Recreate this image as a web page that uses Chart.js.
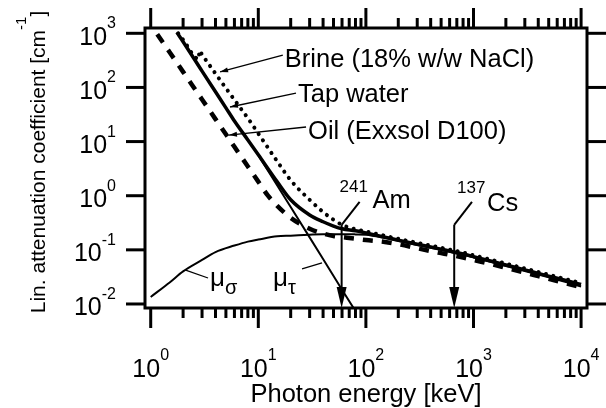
<!DOCTYPE html>
<html>
<head>
<meta charset="utf-8">
<script src="https://cdn.jsdelivr.net/npm/chart.js@4.4.1/dist/chart.umd.min.js"></script>
<style>
body { margin: 0; background: #fff; }
#wrap { width: 606px; height: 408px; }
</style>
</head>
<body>
<div id="wrap"><canvas id="muChart" width="606" height="408"></canvas></div>
<script>
// photon energy in keV, linear attenuation in 1/cm
const brineE = [1.8, 2, 2.8, 2.83, 3, 4, 5, 6, 8, 10, 15, 20, 30, 40, 50, 60, 80, 100, 150, 200, 300, 400, 500, 600, 800, 1000, 1500, 2000, 3000, 4000, 5000, 6000, 8000, 10000];
const brineMu = [1000, 760, 335, 480, 405, 180, 97, 59, 27, 14.1, 4.3, 1.93, 0.84, 0.5, 0.36, 0.29, 0.24, 0.218, 0.182, 0.16, 0.135, 0.12, 0.109, 0.101, 0.089, 0.0795, 0.0647, 0.0557, 0.0453, 0.0389, 0.0347, 0.0316, 0.0272, 0.0243];

const waterE = [1.75, 2, 3, 4, 5, 6, 8, 10, 15, 20, 30, 40, 50, 60, 80, 100, 150, 200, 300, 400, 500, 600, 800, 1000, 1500, 2000, 3000, 4000, 5000, 6000, 8000, 10000];
const waterMu = [1040, 700, 200, 83, 42, 24, 10.7, 5.7, 1.8, 0.84, 0.44, 0.33, 0.275, 0.245, 0.225, 0.205, 0.172, 0.151, 0.127, 0.113, 0.103, 0.0955, 0.0838, 0.075, 0.061, 0.0525, 0.0427, 0.0367, 0.0327, 0.0298, 0.0257, 0.0229];

const oilE = [1.15, 1.5, 2, 3, 4, 5, 6, 8, 10, 12.3, 15, 20, 30, 40, 50, 60, 80, 100, 150, 200, 300, 400, 500, 600, 800, 1000, 1500, 2000, 3000, 4000, 5000, 6000, 8000, 10000];
const oilMu = [960, 447, 194, 60, 26, 13.6, 8.0, 3.47, 1.82, 1.0, 0.65, 0.39, 0.245, 0.2, 0.18, 0.172, 0.16, 0.152, 0.14, 0.127, 0.107, 0.095, 0.087, 0.081, 0.072, 0.065, 0.054, 0.0467, 0.038, 0.0327, 0.0291, 0.0265, 0.0229, 0.0204];

const scatE = [1, 1.5, 2, 3, 4, 6, 8, 10, 15, 20, 30, 40, 60, 80, 100, 150, 200, 300, 400, 500, 600, 800, 1000, 1500, 2000, 3000, 4000, 5000, 6000, 8000, 10000];
const scatMu = [0.0135, 0.025, 0.04, 0.065, 0.091, 0.12, 0.142, 0.155, 0.178, 0.183, 0.191, 0.195, 0.195, 0.193, 0.19, 0.165, 0.146, 0.123, 0.109, 0.0995, 0.092, 0.0808, 0.0723, 0.0588, 0.0505, 0.0408, 0.035, 0.031, 0.0281, 0.024, 0.0211];

const photoE = [10, 15, 20, 30, 40, 60, 80];
const photoMu = [5.6, 1.55, 0.62, 0.17, 0.068, 0.0183, 0.0074];

const xTickExp = [0, 1, 2, 3, 4];
const yTickExp = [3, 2, 1, 0, -1, -2];

const amE = 59.5;   // 241Am line
const csE = 662;    // 137Cs line

const FONT = "'Liberation Sans', Arial, sans-serif";

function pts(es, ms) {
    return es.map((e, i) => ({ x: e, y: ms[i] }));
}

function line(ctx, x1, y1, x2, y2) {
    ctx.beginPath();
    ctx.moveTo(x1, y1);
    ctx.lineTo(x2, y2);
    ctx.stroke();
}

function arrowHead(ctx, x1, y1, x2, y2, len, half) {
    const a = Math.atan2(y2 - y1, x2 - x1);
    ctx.beginPath();
    ctx.moveTo(x2, y2);
    ctx.lineTo(x2 - len * Math.cos(a) + half * Math.sin(a), y2 - len * Math.sin(a) - half * Math.cos(a));
    ctx.lineTo(x2 - len * Math.cos(a) - half * Math.sin(a), y2 - len * Math.sin(a) + half * Math.cos(a));
    ctx.closePath();
    ctx.fill();
}

function powLabel(ctx, exp, x, base, align, raise) {
    ctx.font = "25px " + FONT;
    const wb = ctx.measureText("10").width;
    ctx.font = "16px " + FONT;
    const ws = ctx.measureText(String(exp)).width;
    const x0 = align === "center" ? x - (wb + ws) / 2 : x - wb - ws;
    ctx.textAlign = "left";
    ctx.textBaseline = "alphabetic";
    ctx.font = "25px " + FONT;
    ctx.fillText("10", x0, base);
    ctx.font = "16px " + FONT;
    ctx.fillText(String(exp), x0 + wb, base - raise);
}

const frame = {
    id: "frame",
    afterDraw(chart) {
        const ctx = chart.ctx;
        const a = chart.chartArea;
        const xs = chart.scales.x;
        const ys = chart.scales.y;
        const X = (v) => xs.getPixelForValue(v);
        const Y = (v) => ys.getPixelForValue(v);
        ctx.save();
        ctx.strokeStyle = "#000";
        ctx.fillStyle = "#000";

        /* ---------- box and ticks ---------- */
        ctx.lineWidth = 3;
        ctx.lineCap = "butt";
        ctx.strokeRect(a.left, a.top, a.right - a.left, a.bottom - a.top);
        for (let d = 0; d <= 4; d++) {
            for (let m = 1; m <= 9; m++) {
                const v = m * Math.pow(10, d);
                if (v < xs.min || v > xs.max) continue;
                const px = X(v);
                const len = m === 1 ? 20 : 10;
                line(ctx, px, a.bottom, px, a.bottom + len);
                line(ctx, px, a.top, px, a.top - len);
            }
        }
        yTickExp.forEach((e) => {
            const py = Y(Math.pow(10, e));
            line(ctx, a.left - 19, py, a.left, py);
            line(ctx, a.right, py, a.right + 19, py);
        });

        /* ---------- tick labels ---------- */
        xTickExp.forEach((e) => {
            powLabel(ctx, e, X(Math.pow(10, e)), a.bottom + 69, "center", 17);
        });
        yTickExp.forEach((e) => {
            powLabel(ctx, e, a.left - 29, Y(Math.pow(10, e)) + 11.5, "right", 16.5);
        });

        /* ---------- axis titles ---------- */
        ctx.font = "25.5px " + FONT;
        ctx.textAlign = "center";
        ctx.fillText("Photon energy [keV]", (a.left + a.right) / 2, a.bottom + 94);

        ctx.save();
        ctx.translate(45, 162);
        ctx.rotate(-Math.PI / 2);
        ctx.textAlign = "left";
        const t1 = "Lin. attenuation coefficient [cm", t2 = "-1", t3 = "]";
        ctx.font = "21px " + FONT;
        const w1 = ctx.measureText(t1).width, w3 = ctx.measureText(t3).width;
        ctx.font = "15px " + FONT;
        const w2 = ctx.measureText(t2).width;
        let tx = -(w1 + w2 + w3) / 2;
        ctx.font = "21px " + FONT;
        ctx.fillText(t1, tx, 0);
        ctx.font = "15px " + FONT;
        ctx.fillText(t2, tx + w1, -19);
        ctx.font = "21px " + FONT;
        ctx.fillText(t3, tx + w1 + w2, 0);
        ctx.restore();

        /* ---------- curve labels with leaders ---------- */
        ctx.lineWidth = 1.3;
        ctx.textAlign = "left";
        ctx.font = "25.5px " + FONT;
        const leaders = [
            { text: "Brine (18% w/w NaCl)", from: [16.9, 397], to: [4.41, 193], dx: 2, dy: 12 },
            { text: "Tap water", from: [22.4, 78.9], to: [5.46, 43.5], dx: 2, dy: 9 },
            { text: "Oil (Exxsol D100)", from: [27.8, 18.6], to: [5.34, 13.2], dx: 2, dy: 12.5 },
        ];
        leaders.forEach((l) => {
            const x1 = X(l.from[0]), y1 = Y(l.from[1]);
            const x2 = X(l.to[0]), y2 = Y(l.to[1]);
            line(ctx, x1, y1, x2, y2);
            arrowHead(ctx, x1, y1, x2, y2, 8, 2.5);
            ctx.fillText(l.text, x1 + l.dx, y1 + l.dy);
        });

        // mu_sigma and mu_tau
        line(ctx, X(2.08), Y(0.0425), X(3.41), Y(0.0302));
        line(ctx, X(25.5), Y(0.0443), X(39.1), Y(0.0572));
        ctx.font = "26px " + FONT;
        ctx.fillText("\u03bc", 210, 286);
        ctx.fillText("\u03bc", 273, 286);
        ctx.font = "20px " + FONT;
        ctx.fillText("\u03c3", 225, 294);
        ctx.fillText("\u03c4", 288, 294);

        /* ---------- source lines ---------- */
        ctx.lineWidth = 2;
        [[amE, 87.4, "241", "Am", -20, -10, 13, 6], [csE, 968, "137", "Cs", -15, -9, 15, 9]].forEach((s) => {
            const x = X(s[0]), yTop = Y(0.29);
            const xe = X(s[1]), ye = Y(0.77);
            line(ctx, x, a.bottom - 10, x, yTop);
            line(ctx, x, yTop, xe, ye);
            arrowHead(ctx, x, yTop, x, a.bottom, 21, 5);
            ctx.font = "17px " + FONT;
            ctx.fillText(s[2], xe + s[4], ye + s[5]);
            ctx.font = "25.5px " + FONT;
            ctx.fillText(s[3], xe + s[6], ye + s[7]);
        });
        ctx.restore();
    },
};

const base = { borderColor: "#000", pointRadius: 0, fill: false, cubicInterpolationMode: "monotone" };

new Chart(document.getElementById("muChart"), {
    type: "line",
    data: {
        datasets: [
            Object.assign({ label: "Brine", data: pts(brineE, brineMu), borderWidth: 4, borderDash: [0.1, 7.5], borderCapStyle: "round" }, base),
            Object.assign({ label: "Tap water", data: pts(waterE, waterMu), borderWidth: 3.5 }, base),
            Object.assign({ label: "Oil", data: pts(oilE, oilMu), borderWidth: 4.5, borderDash: [10, 9] }, base),
            Object.assign({ label: "mu sigma", data: pts(scatE, scatMu), borderWidth: 2 }, base),
            Object.assign({ label: "mu tau", data: pts(photoE, photoMu), borderWidth: 2 }, base, { cubicInterpolationMode: "default", tension: 0 }),
        ],
    },
    options: {
        responsive: false,
        animation: false,
        devicePixelRatio: 1,
        events: [],
        layout: { padding: { left: 145, right: 19, top: 28, bottom: 100 } },
        scales: {
            x: { type: "logarithmic", min: 0.885, max: 11350, display: false },
            y: { type: "logarithmic", min: 0.00843, max: 1253, display: false },
        },
        plugins: { legend: { display: false }, tooltip: { enabled: false } },
    },
    plugins: [frame],
});
</script>
</body>
</html>
